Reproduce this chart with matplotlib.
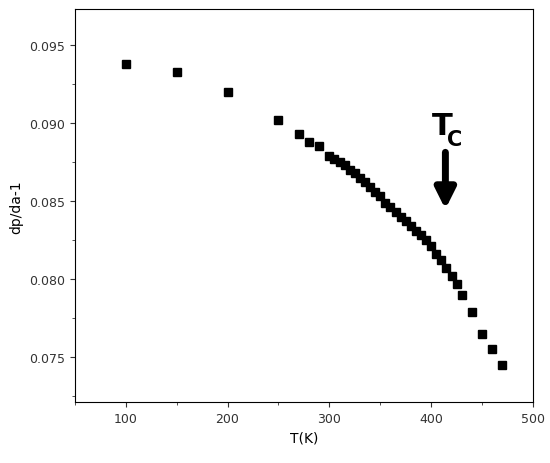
import matplotlib
matplotlib.use('Agg')
import matplotlib.pyplot as plt
from matplotlib.ticker import MultipleLocator

temps = [100, 150, 200, 250, 270, 280, 290,
         300, 305, 310, 315, 320, 325, 330, 335, 340, 345, 350, 355, 360, 365,
         370, 375, 380, 385, 390, 395, 400, 405, 410, 415, 420, 425, 430,
         440, 450, 460, 470]
dpda = [0.0938, 0.0933, 0.0920, 0.0902, 0.0893, 0.0888, 0.0885,
        0.0879, 0.0877, 0.0875, 0.0873, 0.0870, 0.0868, 0.0865, 0.0862, 0.0859, 0.0856,
        0.0853, 0.0849, 0.0846, 0.0843, 0.0840, 0.0837, 0.0834, 0.0831, 0.0828, 0.0825,
        0.0821, 0.0816, 0.0812, 0.0807, 0.0802, 0.0797, 0.0790,
        0.0779, 0.0765, 0.0755, 0.0745]

fig = plt.figure(figsize=(5.5, 4.64), dpi=100)
ax = fig.add_axes([0.136, 0.131, 0.833, 0.847])
ax.plot(temps, dpda, 's', color='black', markersize=5.5)

ax.set_xlim(50, 500)
ax.set_ylim(0.0721, 0.0973)
ax.xaxis.set_major_locator(MultipleLocator(100))
ax.xaxis.set_minor_locator(MultipleLocator(50))
ax.yaxis.set_major_locator(MultipleLocator(0.005))
ax.yaxis.set_minor_locator(MultipleLocator(0.0025))
ax.yaxis.set_major_formatter(plt.FormatStrFormatter('%.3f'))
ax.tick_params(which='both', top=False, right=False, labelsize=9, colors='#333333')
ax.set_xlabel('T(K)', fontsize=10)
ax.set_ylabel('dp/da-1', fontsize=10)

# Tc marker
ax.annotate('', xy=(414, 0.0843), xytext=(414, 0.0883),
            arrowprops=dict(arrowstyle='-|>', color='black', lw=5, mutation_scale=30))
ax.text(401, 0.0893, 'T', fontsize=22, fontweight='bold')
ax.text(416, 0.0886, 'C', fontsize=15, fontweight='bold')

fig.savefig('out.png', dpi=100)
